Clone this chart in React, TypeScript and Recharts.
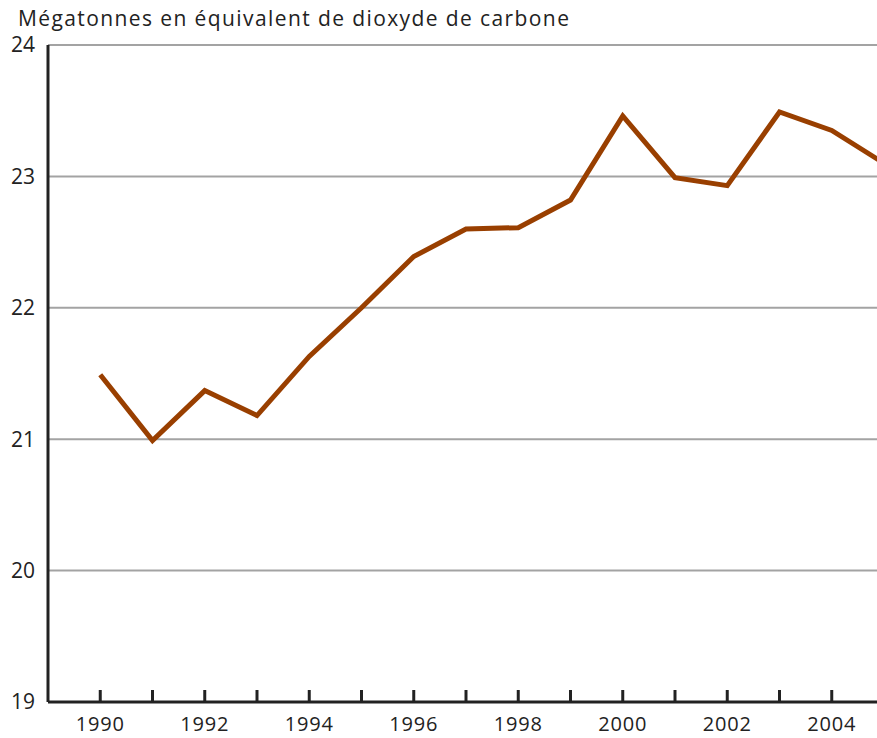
import { CartesianGrid, Line, LineChart, XAxis, YAxis } from 'recharts'

// Données
const YEARS = [1990, 1991, 1992, 1993, 1994, 1995, 1996, 1997, 1998, 1999, 2000, 2001, 2002, 2003, 2004, 2005]
const EMISSIONS = [21.49, 20.99, 21.37, 21.18, 21.63, 22.0, 22.39, 22.6, 22.61, 22.82, 23.46, 22.99, 22.93, 23.49, 23.35, 23.1]
const Y_TICKS = [19, 20, 21, 22, 23, 24]
const X_TICKS = YEARS
const TITLE = 'Mégatonnes en équivalent de dioxyde de carbone'

const FONT = '"Open Sans", "Noto Sans", sans-serif'
const TEXT = '#222222'

const data = YEARS.map((year, i) => ({ year, value: EMISSIONS[i] }))

function YearTick(props: any): React.JSX.Element {
  const { x, y, payload } = props
  const year = payload.value as number
  return (
    <g>
      <line x1={x} y1={y} x2={x} y2={y - 12} stroke="#222" strokeWidth={3} />
      {year % 2 === 0 && (
        <text
          x={x}
          y={y + 29}
          textAnchor="middle"
          fontSize={20}
          letterSpacing={0.8}
          fill={TEXT}
          fontFamily={FONT}
        >
          {year}
        </text>
      )}
    </g>
  )
}

export default function App(): React.JSX.Element {
  return (
    <div
      style={{
        position: 'absolute',
        left: 0,
        top: 0,
        width: 877,
        height: 738,
        overflow: 'hidden',
        background: '#fff',
        fontFamily: FONT,
      }}
    >
      <div
        style={{ position: 'absolute', left: 18, top: 4, fontSize: 21, letterSpacing: 1.4, color: TEXT }}
      >
        {TITLE}
      </div>
      <LineChart
        width={890}
        height={738}
        data={data}
        margin={{ top: 45, right: 6, bottom: 0, left: 0 }}
      >
        <CartesianGrid vertical={false} stroke="#a3a3a3" strokeWidth={2} />
        <XAxis
          dataKey="year"
          type="number"
          domain={[1989, 2005]}
          ticks={X_TICKS}
          interval={0}
          height={36}
          tickLine={false}
          tickSize={0}
          tickMargin={0}
          axisLine={{ stroke: '#222', strokeWidth: 3 }}
          tick={<YearTick />}
        />
        <YAxis
          type="number"
          domain={[19, 24]}
          ticks={Y_TICKS}
          interval={0}
          width={48}
          tickLine={false}
          tickSize={0}
          tickMargin={13}
          axisLine={{ stroke: '#222', strokeWidth: 3 }}
          tick={{ fontSize: 21, fill: TEXT, fontFamily: FONT }}
        />
        <Line
          type="linear"
          dataKey="value"
          stroke="#993f00"
          strokeWidth={5}
          dot={false}
          isAnimationActive={false}
        />
      </LineChart>
    </div>
  )
}
